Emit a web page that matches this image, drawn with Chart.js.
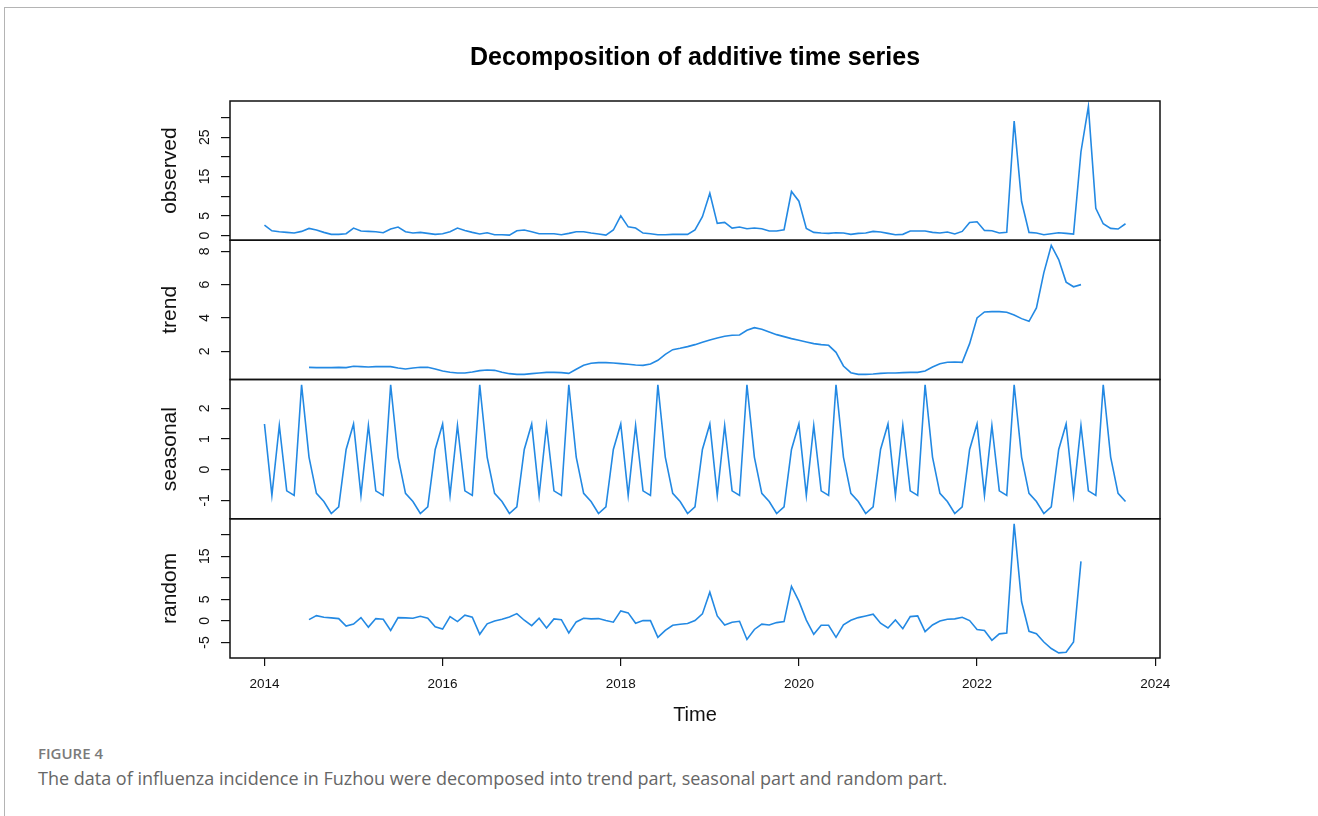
<!DOCTYPE html>
<html>
<head>
<meta charset="utf-8">
<title>Decomposition of additive time series</title>
<script src="https://cdn.jsdelivr.net/npm/chart.js@4.4.0/dist/chart.umd.min.js"></script>
<style>
  html, body { margin: 0; padding: 0; background: #fff; }
  body { width: 1318px; height: 816px; position: relative; overflow: hidden; }
  #frame { position: absolute; left: 4px; top: 7px; right: 0; bottom: 0; border-top: 1px solid #b4b4b4; border-left: 1px solid #b4b4b4; }
  #chart { position: absolute; left: 0; top: 0; }
  .fig { position: absolute; left: 38px; top: 743px; font: 600 15px "Open Sans", sans-serif; color: #7a7a7a; line-height: 20px; }
  .cap { position: absolute; left: 38px; top: 766px; font: 400 18px "Open Sans", sans-serif; color: #666; line-height: 24px; }
</style>
</head>
<body>
<div id="frame"></div>
<canvas id="chart" width="1318" height="727"></canvas>
<div class="fig">FIGURE 4</div>
<div class="cap">The data of influenza incidence in Fuzhou were decomposed into trend part, seasonal part and random part.</div>
<script>
// monthly series, Jan 2014 .. Sep 2023
const startYear = 2014;
const perYear = 12;

const observed = [
  2.66, 1.2, 0.97, 0.8, 0.63, 1.05, 1.8, 1.4, 0.8, 0.3, 0.3, 0.47,
  1.9, 1.14, 1.05, 0.97, 0.72, 1.64, 2.15, 0.97, 0.63, 0.8, 0.55, 0.3,
  0.47, 0.97, 1.9, 1.3, 0.8, 0.38, 0.72, 0.2, 0.2, 0.1, 1.2, 1.4,
  0.97, 0.47, 0.47, 0.47, 0.2, 0.55, 0.97, 0.97, 0.63, 0.38, 0.1, 1.4,
  5.0, 2.2, 1.9, 0.63, 0.47, 0.2, 0.2, 0.3, 0.3, 0.3, 1.45, 4.77,
  10.76, 3.08, 3.33, 1.9, 2.15, 1.73, 1.9, 1.73, 1.14, 1.14, 1.48, 11.2,
  8.73, 1.81, 0.8, 0.63, 0.55, 0.72, 0.63, 0.3, 0.55, 0.63, 1.05, 0.9,
  0.55, 0.2, 0.3, 1.14, 1.14, 1.14, 0.8, 0.63, 0.9, 0.38, 1.05, 3.33,
  3.5, 1.3, 1.2, 0.63, 0.8, 29.1, 8.65, 0.8, 0.63, 0.2, 0.47, 0.72,
  0.55, 0.38, 21.3, 32.8, 6.9, 3.0, 1.81, 1.65, 3.0
];

const trend = [
  null, null, null, null, null, null, 1.04, 1.02, 1.02, 1.02, 1.04, 1.02,
  1.1, 1.08, 1.06, 1.08, 1.08, 1.08, 1.0, 0.94, 1.0, 1.04, 1.04, 0.94,
  0.82, 0.74, 0.7, 0.7, 0.76, 0.84, 0.88, 0.86, 0.74, 0.66, 0.62, 0.62,
  0.66, 0.7, 0.74, 0.74, 0.72, 0.68, 0.92, 1.16, 1.28, 1.32, 1.32, 1.3,
  1.26, 1.22, 1.18, 1.16, 1.24, 1.46, 1.82, 2.1, 2.18, 2.28, 2.4, 2.54,
  2.68, 2.8, 2.9, 2.96, 2.98, 3.26, 3.42, 3.32, 3.16, 3.0, 2.88, 2.76,
  2.66, 2.56, 2.46, 2.4, 2.36, 1.94, 1.12, 0.72, 0.62, 0.62, 0.64, 0.68,
  0.7, 0.7, 0.72, 0.74, 0.74, 0.82, 1.06, 1.26, 1.34, 1.36, 1.34, 2.46,
  4.0, 4.36, 4.38, 4.38, 4.34, 4.18, 3.96, 3.8, 4.6, 6.72, 8.35, 7.5,
  6.15, 5.87, 6.0, null, null, null, null, null, null
];

const seasonal = [
  1.49, -0.84, 1.44, -0.69, -0.84, 2.77, 0.41, -0.77, -1.04, -1.43, -1.21, 0.66,
  1.49, -0.84, 1.44, -0.69, -0.84, 2.77, 0.41, -0.77, -1.04, -1.43, -1.21, 0.66,
  1.49, -0.84, 1.44, -0.69, -0.84, 2.77, 0.41, -0.77, -1.04, -1.43, -1.21, 0.66,
  1.49, -0.84, 1.44, -0.69, -0.84, 2.77, 0.41, -0.77, -1.04, -1.43, -1.21, 0.66,
  1.49, -0.84, 1.44, -0.69, -0.84, 2.77, 0.41, -0.77, -1.04, -1.43, -1.21, 0.66,
  1.49, -0.84, 1.44, -0.69, -0.84, 2.77, 0.41, -0.77, -1.04, -1.43, -1.21, 0.66,
  1.49, -0.84, 1.44, -0.69, -0.84, 2.77, 0.41, -0.77, -1.04, -1.43, -1.21, 0.66,
  1.49, -0.84, 1.44, -0.69, -0.84, 2.77, 0.41, -0.77, -1.04, -1.43, -1.21, 0.66,
  1.49, -0.84, 1.44, -0.69, -0.84, 2.77, 0.41, -0.77, -1.04, -1.43, -1.21, 0.66,
  1.49, -0.84, 1.44, -0.69, -0.84, 2.77, 0.41, -0.77, -1.04
];

const random = [
  null, null, null, null, null, null, 0.3, 1.23, 0.86, 0.7, 0.54, -1.2,
  -0.74, 0.77, -1.44, 0.54, 0.39, -2.2, 0.77, 0.7, 0.62, 1.09, 0.62, -1.37,
  -1.9, 1.0, -0.16, 1.32, 0.86, -3.1, -0.67, 0.0, 0.39, 0.93, 1.7, 0.16,
  -1.1, 0.62, -1.63, 0.47, 0.3, -2.8, -0.23, 0.62, 0.47, 0.54, 0.08, -0.3,
  2.33, 1.86, -0.54, 0.08, 0.08, -3.8, -2.2, -1.0, -0.77, -0.6, 0.1, 1.63,
  6.67, 1.16, -0.93, -0.3, -0.08, -4.3, -1.98, -0.74, -0.93, -0.39, -0.16, 8.0,
  4.6, 0.2, -3.1, -1.0, -1.0, -3.8, -0.93, 0.16, 0.77, 1.16, 1.55, -0.54,
  -1.63, 0.2, -1.8, 1.0, 1.16, -2.5, -0.93, 0.0, 0.39, 0.47, 0.86, 0.08,
  -1.98, -2.2, -4.5, -3.0, -2.8, 22.5, 4.45, -2.4, -2.95, -4.9, -6.4, -7.4,
  -7.26, -4.86, 13.8, null, null, null, null, null, null
];

const panelNames = ['observed', 'trend', 'seasonal', 'random'];
const panelIds = ['yObs', 'yTrend', 'ySeas', 'yRand'];
const panelRanges = [[-1.2, 34.2], [0.31, 8.66], [-1.6, 2.94], [-8.6, 23.7]];
const panelTicks = [[0, 5, 10, 15, 20, 25, 30], [2, 4, 6, 8], [-1, 0, 1, 2], [-5, 0, 5, 10, 15, 20]];
const panelLabels = [[0, 5, 15, 25], [2, 4, 6, 8], [-1, 0, 1, 2], [-5, 0, 5, 15]];
const xTicks = [2014, 2016, 2018, 2020, 2022, 2024];

const family = '"Liberation Sans", Arial, sans-serif';
const ink = '#111';
const lineColor = '#2389e3';

const toPoints = arr => arr.map((v, i) => ({ x: startYear + i / perYear, y: v }));

// boxes round each panel and the rotated tick labels, R style
const panelFrames = {
  id: 'panelFrames',
  afterDraw(chart) {
    const ctx = chart.ctx;
    const { left, right } = chart.chartArea;
    ctx.save();
    ctx.strokeStyle = ink;
    ctx.lineWidth = 1.5;
    ctx.fillStyle = ink;
    ctx.font = '14px ' + family;
    ctx.textAlign = 'center';
    ctx.textBaseline = 'middle';
    panelIds.forEach((id, k) => {
      const s = chart.scales[id];
      ctx.strokeRect(left, s.top, right - left, s.bottom - s.top);
      panelLabels[k].forEach(v => {
        ctx.save();
        ctx.translate(s.right - 25, s.getPixelForValue(v));
        ctx.rotate(-Math.PI / 2);
        ctx.fillText(String(v), 0, 0);
        ctx.restore();
      });
    });
    ctx.restore();
  }
};

const scales = {
  x: {
    type: 'linear',
    position: 'bottom',
    min: 2013.613,
    max: 2024.054,
    afterBuildTicks: s => { s.ticks = xTicks.map(v => ({ value: v })); },
    afterFit: s => { s.height = 69; },
    grid: { drawOnChartArea: false, tickLength: 8, color: ink, lineWidth: 1.2 },
    border: { display: false },
    ticks: { font: { size: 13.5, family: family }, color: ink, padding: 10, maxRotation: 0, callback: v => String(v) },
    title: { display: true, text: 'Time', font: { size: 20, family: family }, color: ink, padding: 0 }
  }
};

// stacked axes are laid out bottom-up, so add the lowest panel first
for (let k = panelIds.length - 1; k >= 0; k--) {
  scales[panelIds[k]] = {
    type: 'linear',
    position: 'left',
    stack: 'panels',
    stackWeight: 1,
    min: panelRanges[k][0],
    max: panelRanges[k][1],
    afterBuildTicks: s => { s.ticks = panelTicks[k].map(v => ({ value: v })); },
    afterFit: s => { s.width = 72; },
    grid: { drawOnChartArea: false, tickLength: 9, color: ink, lineWidth: 1.2 },
    border: { display: false },
    ticks: { display: false },
    title: { display: true, text: panelNames[k], font: { size: 21, family: family }, color: ink, padding: 0 }
  };
}

const datasets = [observed, trend, seasonal, random].map((arr, k) => ({
  label: panelNames[k],
  data: toPoints(arr),
  yAxisID: panelIds[k],
  borderColor: lineColor,
  borderWidth: 1.6,
  pointRadius: 0,
  tension: 0,
  spanGaps: false,
  fill: false
}));

new Chart(document.getElementById('chart'), {
  type: 'line',
  data: { datasets: datasets },
  options: {
    responsive: false,
    animation: false,
    layout: { padding: { left: 158, right: 158, top: 0, bottom: 0 } },
    scales: scales,
    plugins: {
      legend: { display: false },
      tooltip: { enabled: false },
      title: {
        display: true,
        fullSize: false,
        text: 'Decomposition of additive time series',
        color: '#000',
        font: { size: 25, weight: 'bold', family: family },
        padding: { top: 43, bottom: 28 }
      }
    }
  },
  plugins: [panelFrames]
});
</script>
</body>
</html>
